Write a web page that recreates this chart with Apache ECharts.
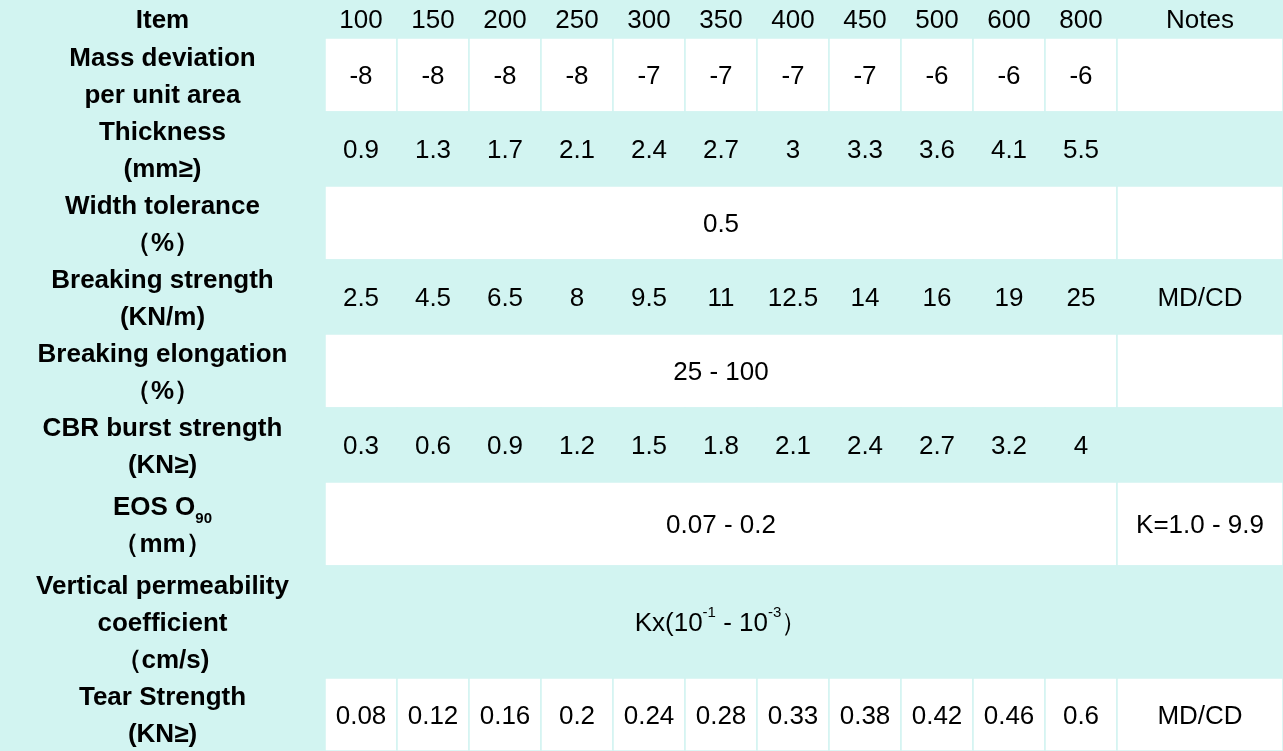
<!DOCTYPE html><html><head><meta charset="utf-8">
<script src="https://cdn.jsdelivr.net/npm/echarts@6/dist/echarts.min.js"></script>
<style>html,body{margin:0;padding:0;background:#fff}#c{width:1283px;height:751px}</style></head><body><div id="c"></div>
<script>
const grades=['100','150','200','250','300','350','400','450','500','600','800'];
const items=['Item','Mass deviation\nper unit area','Thickness\n(mm≥)','Width tolerance\n（%）','Breaking strength\n(KN/m)','Breaking elongation\n（%）','CBR burst strength\n(KN≥)','EOS O{sub|90}\n（mm）','Vertical permeability\ncoefficient\n（cm/s)','Tear Strength\n(KN≥)'];
const massDev=['-8','-8','-8','-8','-7','-7','-7','-7','-6','-6','-6'];
const thickness=['0.9','1.3','1.7','2.1','2.4','2.7','3','3.3','3.6','4.1','5.5'];
const widthTol='0.5';
const breaking=['2.5','4.5','6.5','8','9.5','11','12.5','14','16','19','25'];
const elongation='25 - 100';
const cbr=['0.3','0.6','0.9','1.2','1.5','1.8','2.1','2.4','2.7','3.2','4'];
const eos='0.07 - 0.2';
const permeability='Kx(10{sup|-1} - 10{sup|-3}）';
const tear=['0.08','0.12','0.16','0.2','0.24','0.28','0.33','0.38','0.42','0.46','0.6'];
const notes=['Notes','','','','MD/CD','','','K=1.0 - 9.9',null,'MD/CD'];
// layout
const colEdges=[0,325,397,469,541,613,685,757,829,901,973,1045,1117,1283];
const rowEdges=[0,38,112,186,260,334,408,482,566,678,751];
const CY='#d2f4f1', WH='#ffffff';
const rowVals=[grades,massDev,thickness,widthTol,breaking,elongation,cbr,eos,permeability,tear];
const cells=[];
rowVals.forEach((v,r)=>{
  const fill=(r%2===0)?CY:WH;
  cells.push([colEdges[0],colEdges[1],rowEdges[r],rowEdges[r+1],items[r],CY,1,null]);
  if(Array.isArray(v)){
    v.forEach((t,i)=>cells.push([colEdges[i+1],colEdges[i+2],rowEdges[r],rowEdges[r+1],t,fill,0,null]));
  } else if(notes[r]===null){
    cells.push([colEdges[1],colEdges[13],rowEdges[r],rowEdges[r+1],v,fill,0,(colEdges[1]+colEdges[12])/2]);
  } else {
    cells.push([colEdges[1],colEdges[12],rowEdges[r],rowEdges[r+1],v,fill,0,null]);
  }
  if(notes[r]!==null) cells.push([colEdges[12],colEdges[13],rowEdges[r],rowEdges[r+1],notes[r],fill,0,null]);
});
const chart=echarts.init(document.getElementById('c'));
chart.setOption({
  animation:false,
  grid:{left:0,right:0,top:0,bottom:0},
  xAxis:{type:'value',min:0,max:1283,show:false},
  yAxis:{type:'value',min:0,max:751,inverse:true,show:false},
  series:[{type:'custom',data:cells,encode:{x:[0,1],y:[2,3]},
    renderItem:(params,api)=>{
      const p0=api.coord([api.value(0),api.value(2)]);
      const p1=api.coord([api.value(1),api.value(3)]);
      const d=cells[params.dataIndex];
      const bold=d[6]===1;
      const fs=26;
      const tx=d[7]!==null?api.coord([d[7],0])[0]:(p0[0]+p1[0])/2;
      return {type:'group',children:[
        {type:'rect',shape:{x:p0[0],y:p0[1],width:p1[0]-p0[0],height:p1[1]-p0[1]},style:{fill:d[5],stroke:CY,lineWidth:1.5}},
        {type:'text',style:{x:tx,y:(p0[0]+p1[0])/2*0+(p0[1]+p1[1])/2+2,text:d[4],align:'center',verticalAlign:'middle',
          font:(bold?'bold ':'')+fs+'px "Liberation Sans", Arial, sans-serif',fill:'#000',lineHeight:37,
          rich:{sub:{fontSize:15,fontWeight:'bold',fontFamily:'Liberation Sans',verticalAlign:'bottom',padding:[14,0,0,0]},
                sup:{fontSize:15,fontFamily:'Liberation Sans',padding:[0,0,14,0],verticalAlign:'top'}}}}
      ]};
    }}]
});
</script></body></html>
